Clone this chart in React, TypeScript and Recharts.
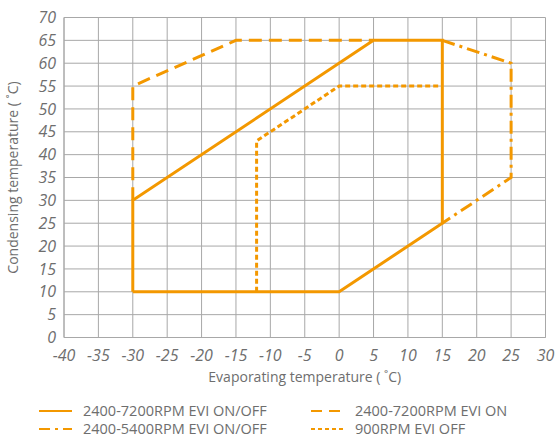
import React from 'react';
import { LineChart, Line, XAxis, YAxis, CartesianGrid, Legend } from 'recharts';

const xTicks = [-40, -35, -30, -25, -20, -15, -10, -5, 0, 5, 10, 15, 20, 25, 30];
const yTicks = [0, 5, 10, 15, 20, 25, 30, 35, 40, 45, 50, 55, 60, 65, 70];

const seriesNames = [
  '2400-7200RPM EVI ON/OFF',
  '2400-7200RPM EVI ON',
  '2400-5400RPM EVI ON/OFF',
  '900RPM EVI OFF',
];

// 2400-7200RPM EVI ON/OFF (solid)
const evapA = [-30, -30, 5, 15, 15, 0, -30];
const condA = [10, 30, 65, 65, 25, 10, 10];
// 2400-7200RPM EVI ON (dashed)
const evapB = [-30, -30, -15, 5];
const condB = [30, 55, 65, 65];
// 2400-5400RPM EVI ON/OFF (dash-dot)
const evapC = [15, 25, 25, 15];
const condC = [65, 60, 35, 25];
// 900RPM EVI OFF (dotted)
const evapD = [-12, -12, 0, 15];
const condD = [10, 43, 55, 55];

const ORANGE = '#F39800';
const GRAY_TEXT = '#6e6e6e';
const FONT = '"Open Sans", "Noto Sans", sans-serif';

const toPts = (xs: number[], ys: number[]) => xs.map((x, i) => ({ x, y: ys[i] }));

const dashes = ['', '13 7', '13 5 3 5', '5 3'];

const legendItems = [
  { name: seriesNames[0], dash: '', col: 0, row: 0 },
  { name: seriesNames[1], dash: '11 7', col: 1, row: 0 },
  { name: seriesNames[2], dash: '11 5 3 5', col: 0, row: 1 },
  { name: seriesNames[3], dash: '4 3', col: 1, row: 1 },
];

const LegendContent = () => (
  <svg width={557} height={42} style={{ display: 'block' }}>
    {legendItems.map((it, i) => {
      const lx = it.col === 0 ? 39 : 311;
      const ly = it.row === 0 ? 13 : 31;
      return (
        <g key={i}>
          <line x1={lx} x2={lx + 33} y1={ly} y2={ly} stroke={ORANGE} strokeWidth={2} strokeDasharray={it.dash} />
          <text x={lx + 44} y={ly + 5} fill={GRAY_TEXT} fontSize={14.5} fontFamily={FONT}>
            {it.name}
          </text>
        </g>
      );
    })}
  </svg>
);

const YTitle = (props: any) => {
  const vb = props.viewBox || { x: 0, y: 0, width: 0, height: 0 };
  const cx = vb.x + 18;
  const cy = vb.y + vb.height / 2;
  return (
    <text x={cx} y={cy} transform={`rotate(-90 ${cx} ${cy})`} textAnchor="middle" fill={GRAY_TEXT} fontSize={14} fontFamily={FONT}>
      Condensing temperature ( ˚C)
    </text>
  );
};

const XTitle = (props: any) => {
  const vb = props.viewBox || { x: 0, y: 0, width: 0, height: 0 };
  return (
    <text x={vb.x + vb.width / 2} y={vb.y + 44} textAnchor="middle" fill={GRAY_TEXT} fontSize={14} fontFamily={FONT}>
      Evaporating temperature ( ˚C)
    </text>
  );
};

const series = [
  { name: seriesNames[1], data: toPts(evapB, condB), dash: dashes[1] },
  { name: seriesNames[2], data: toPts(evapC, condC), dash: dashes[2] },
  { name: seriesNames[3], data: toPts(evapD, condD), dash: dashes[3] },
  { name: seriesNames[0], data: toPts(evapA, condA), dash: dashes[0] },
];

const tickStyle = { fill: GRAY_TEXT, fontSize: 16, fontStyle: 'italic', fontFamily: FONT };

export default function App() {
  return (
    <div style={{ position: 'absolute', left: 0, top: 0 }}>
      <LineChart width={557} height={440} margin={{ top: 17.5, right: 11.5, left: 0, bottom: 0 }}>
        <CartesianGrid stroke="#a8a8a8" strokeWidth={1} />
        <XAxis
          type="number"
          dataKey="x"
          domain={[-40, 30]}
          ticks={xTicks}
          interval={0}
          allowDataOverflow
          tickLine={false}
          tickSize={6}
          tickMargin={6}
          axisLine={{ stroke: '#a8a8a8' }}
          height={60.5}
          tick={tickStyle}
          label={{ content: XTitle }}
        />
        <YAxis
          type="number"
          dataKey="y"
          domain={[0, 70]}
          ticks={yTicks}
          interval={0}
          allowDataOverflow
          tickLine={false}
          axisLine={{ stroke: '#a8a8a8' }}
          width={64}
          tick={tickStyle}
          label={{ content: YTitle }}
        />
        <Legend
          verticalAlign="bottom"
          content={LegendContent}
          wrapperStyle={{ left: 0, bottom: 0, width: 557, height: 42 }}
        />
        {series.map((s) => (
          <Line
            key={s.name}
            name={s.name}
            data={s.data}
            dataKey="y"
            type="linear"
            stroke={ORANGE}
            strokeWidth={3}
            strokeDasharray={s.dash || undefined}
            strokeLinejoin="miter"
            dot={false}
            activeDot={false}
            isAnimationActive={false}
          />
        ))}
      </LineChart>
    </div>
  );
}
